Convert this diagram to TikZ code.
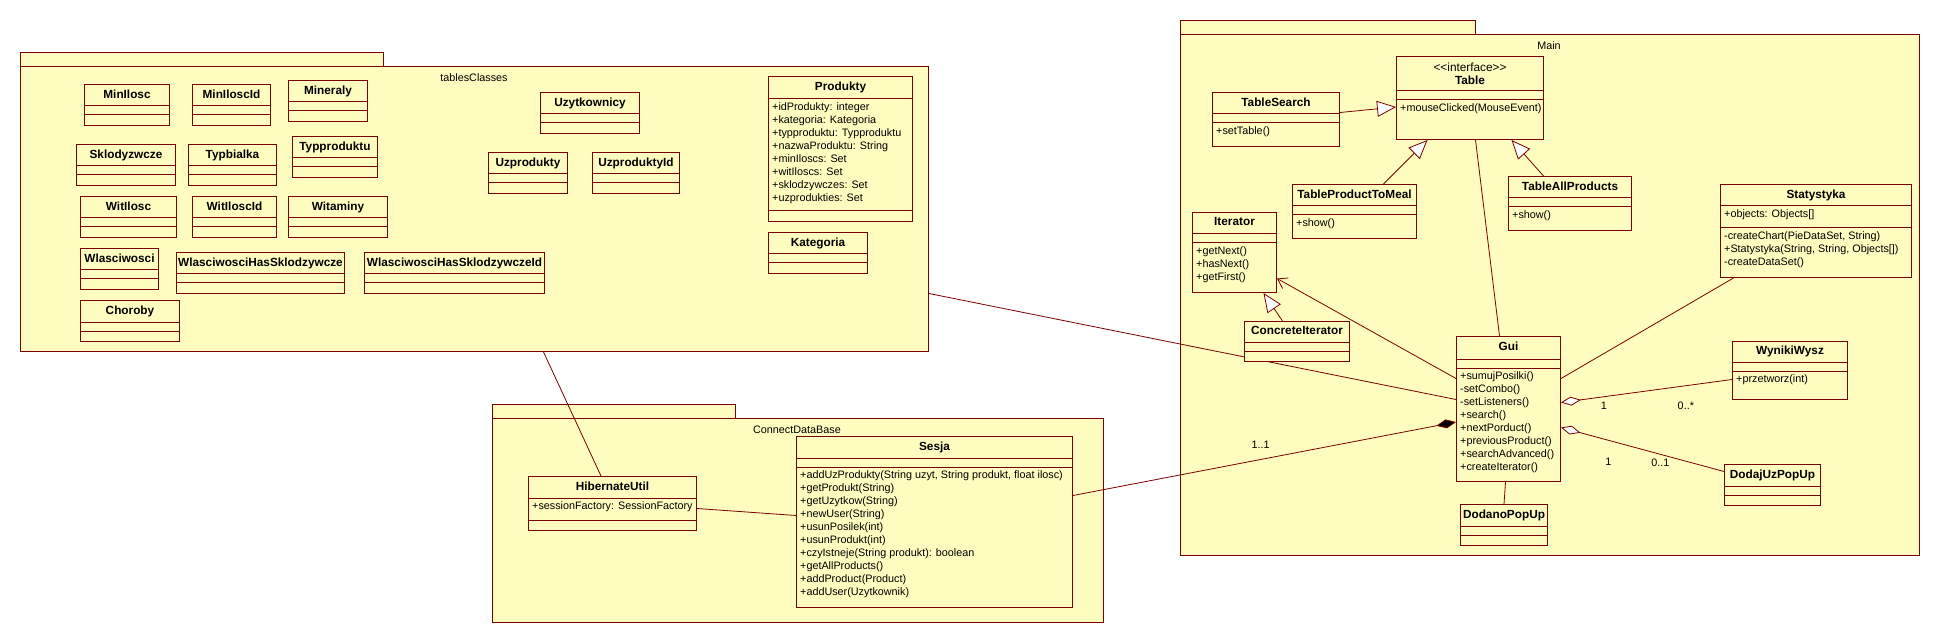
\documentclass[tikz,border=0pt]{standalone}
\usepackage{fontspec}
\setmainfont{Liberation Sans}
\usetikzlibrary{arrows.meta, positioning}

\definecolor{umlfill}{RGB}{255,252,192}
\definecolor{umlline}{RGB}{120,0,0}

\tikzset{
  pkg/.style={draw=umlline, fill=umlfill, line width=1pt, inner sep=0pt, anchor=north west},
  pkgname/.style={font=\fontsize{10.8}{13}\selectfont, inner sep=0pt},
  clsbox/.style={draw=umlline, fill=umlfill, line width=1pt, inner sep=0pt, anchor=north west},
  clsname/.style={font=\fontsize{11.8}{13}\selectfont\bfseries, inner sep=0pt, align=center},
  clstext/.style={font=\fontsize{10.8}{13}\selectfont, inner xsep=4pt, inner ysep=3pt, align=left, anchor=north west},
  clsrule/.style={draw=umlline, line width=1pt},
  link/.style={draw=umlline, line width=0.8pt},
  inherit/.style={-{Triangle[open, length=19pt, width=16pt, fill=white]}},
  depend/.style={-{Straight Barb[length=9pt, width=12pt]}},
  compose/.style={{Diamond[length=20pt, width=9pt]}-},
  aggreg/.style={{Diamond[open, length=20pt, width=9pt, fill=white]}-},
  mult/.style={font=\fontsize{10.8}{13}\selectfont, text=black, inner sep=0pt}
}

\newcommand\umlclass[9]{%
  \node[clsbox, minimum width=#3pt, minimum height=#4pt] (#1) at (#2) {};
  \node[clsname] (#1-name) at ([yshift=-#5pt/2]#1.north) {\vphantom{Ay}#7};
  \draw[clsrule] ([yshift=-#5pt]#1.north west) -- ([yshift=-#5pt]#1.north east);
  \draw[clsrule] ([yshift=-#5pt-#6pt]#1.north west) -- ([yshift=-#5pt-#6pt]#1.north east);
  \node[clstext] (#1-attr) at ([yshift=-#5pt]#1.north west) {#8};
  \node[clstext] (#1-ops) at ([yshift=-#5pt-#6pt]#1.north west) {#9};
}

\begin{document}
\begin{tikzpicture}[x=1pt, y=-1pt]
  \useasboundingbox (0,0) rectangle (1940,644);

  \node[pkg, minimum width=363pt, minimum height=14pt] (tables-tab) at (20,52) {};
  \node[pkg, minimum width=908pt, minimum height=285pt] (tables) at (20,66) {};
  \node[pkgname] (tables-label) at (474,78) {tablesClasses};

  \node[pkg, minimum width=295pt, minimum height=14pt] (main-tab) at (1180,20) {};
  \node[pkg, minimum width=739pt, minimum height=521pt] (main) at (1180,34) {};
  \node[pkgname] (main-label) at (1549,46) {Main};

  \node[pkg, minimum width=243pt, minimum height=14pt] (db-tab) at (492,404) {};
  \node[pkg, minimum width=611pt, minimum height=204pt] (db) at (492,418) {};
  \node[pkgname] (db-label) at (797,430) {ConnectDataBase};

  \umlclass{minilosc}{84,84}{85}{41}{22}{9}{MinIlosc}{}{}
  \umlclass{miniloscid}{192,84}{78}{41}{22}{9}{MinIloscId}{}{}
  \umlclass{mineraly}{288,80}{79}{41}{22}{9}{Mineraly}{}{}
  \umlclass{sklodyzwcze}{76,144}{99}{41}{22}{9}{Sklodyzwcze}{}{}
  \umlclass{typbialka}{188,144}{88}{41}{22}{9}{Typbialka}{}{}
  \umlclass{typproduktu}{292,136}{85}{41}{22}{9}{Typproduktu}{}{}
  \umlclass{witilosc}{80,196}{96}{41}{22}{9}{WitIlosc}{}{}
  \umlclass{witiloscid}{192,196}{84}{41}{22}{9}{WitIloscId}{}{}
  \umlclass{witaminy}{288,196}{99}{41}{22}{9}{Witaminy}{}{}
  \umlclass{wlasciwosci}{80,248}{78}{41}{22}{9}{Wlasciwosci}{}{}
  \umlclass{whs}{176,252}{168}{41}{22}{9}{WlasciwosciHasSklodzywcze}{}{}
  \umlclass{whsid}{364,252}{180}{41}{22}{9}{WlasciwosciHasSklodzywczeId}{}{}
  \umlclass{choroby}{80,300}{99}{41}{22}{9}{Choroby}{}{}
  \umlclass{uzytkownicy}{540,92}{99}{41}{22}{9}{Uzytkownicy}{}{}
  \umlclass{uzprodukty}{488,152}{79}{41}{22}{9}{Uzprodukty}{}{}
  \umlclass{uzproduktyid}{592,152}{87}{41}{22}{9}{UzproduktyId}{}{}
  \umlclass{produkty}{768,76}{144}{145}{23}{112}{Produkty}{+idProdukty: integer\\+kategoria: Kategoria\\+typproduktu: Typproduktu\\+nazwaProduktu: String\\+minIloscs: Set\\+witIloscs: Set\\+sklodzywczes: Set\\+uzprodukties: Set}{}
  \umlclass{kategoria}{768,232}{99}{41}{22}{9}{Kategoria}{}{}

  \umlclass{table}{1396,56}{147}{83}{35}{9}{{\mdseries <{}<interface>{}>}\\Table}{}{+mouseClicked(MouseEvent)}
  \umlclass{tsearch}{1212,92}{127}{54}{22}{9}{TableSearch}{}{+setTable()}
  \umlclass{tptm}{1292,184}{124}{54}{22}{9}{TableProductToMeal}{}{+show()}
  \umlclass{tall}{1508,176}{123}{54}{22}{9}{TableAllProducts}{}{+show()}
  \umlclass{iter}{1192,212}{84}{80}{22}{9}{Iterator}{}{+getNext()\\+hasNext()\\+getFirst()}
  \umlclass{gui}{1456,336}{104}{145}{23}{9}{Gui}{}{+sumujPosilki()\\-setCombo()\\-setListeners()\\+search()\\+nextPorduct()\\+previousProduct()\\+searchAdvanced()\\+createIterator()}
  \path[link] ([yshift=9.5pt]gui.west) edge ([yshift=-84.5pt]tables.east);
  \umlclass{citer}{1244,321}{105}{40}{21}{9}{ConcreteIterator}{}{}
  \umlclass{dodano}{1460,504}{87}{41}{22}{9}{DodanoPopUp}{}{}
  \umlclass{stat}{1720,184}{191}{93}{22}{22}{Statystyka}{+objects: Objects[]}{-createChart(PieDataSet, String)\\+Statystyka(String, String, Objects[])\\-createDataSet()}
  \umlclass{wyniki}{1732,341}{115}{58}{21}{9}{WynikiWysz}{}{+przetworz(int)}
  \umlclass{dodaj}{1724,464}{96}{41}{22}{9}{DodajUzPopUp}{}{}

  \umlclass{hib}{528,476}{168}{54}{22}{22}{HibernateUtil}{+sessionFactory: SessionFactory}{}
  \umlclass{sesja}{796,436}{276}{171}{22}{9}{Sesja}{}{+addUzProdukty(String uzyt, String produkt, float ilosc)\\+getProdukt(String)\\+getUzytkow(String)\\+newUser(String)\\+usunPosilek(int)\\+usunProdukt(int)\\+czyIstneje(String produkt): boolean\\+getAllProducts()\\+addProduct(Product)\\+addUser(Uzytkownik)}

  \path[link]
  ([yshift=7pt]tsearch.east) edge[inherit] ([yshift=-9pt]table.west)
  ([xshift=29pt]tptm.north) edge[inherit] ([xshift=-42.5pt]table.south)
  ([xshift=-26.5pt]tall.north) edge[inherit] ([xshift=41.5pt]table.south)
  ([xshift=5.5pt]table.south) edge ([xshift=-9pt]gui.north)
  ([xshift=-14.5pt]citer.north) edge[inherit] ([xshift=29pt]iter.south)
  ([yshift=30.5pt]gui.west) edge[depend] ([yshift=-26pt]iter.east)
  ([yshift=-13pt]gui.west) edge[compose] node[mult, pos=.51, yshift=15pt] {1..1} ([yshift=26.5pt]sesja.east)
  ([yshift=-5pt]hib.east) edge ([yshift=6.5pt]sesja.west)
  ([xshift=-11.5pt]hib.north) edge ([xshift=69pt]tables.south)
  ([yshift=30.5pt]gui.east) edge ([xshift=-82.5pt]stat.south)
  ([yshift=6.5pt]gui.east) edge[aggreg] node[mult, pos=.25, yshift=-9pt] {1} node[mult, pos=.73, yshift=-20pt] {0..*} ([yshift=-9pt]wyniki.west)
  ([yshift=-18.5pt]gui.east) edge[aggreg] node[mult, pos=.29, yshift=-22pt] {1} node[mult, pos=.61, yshift=-8pt] {0..1} ([yshift=13.5pt]dodaj.west)
  ([xshift=-3pt]gui.south) edge (dodano.north)
  ;
\end{tikzpicture}
\end{document}
